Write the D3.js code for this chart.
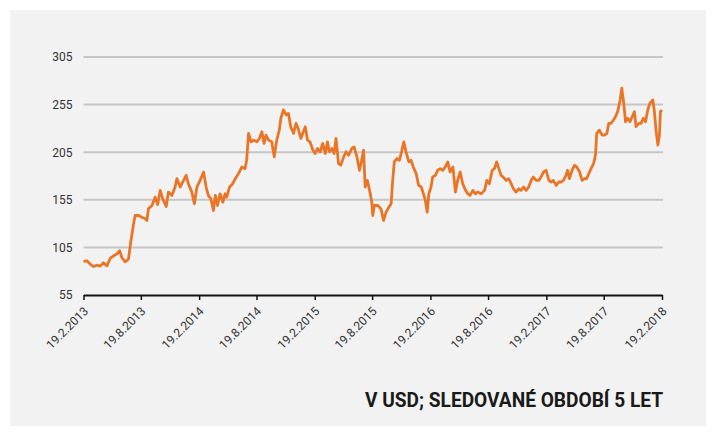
<!DOCTYPE html>
<html>
<head>
<meta charset="utf-8">
<script src="https://cdn.jsdelivr.net/npm/d3@7"></script>
<style>
  body { margin: 0; background: #ffffff; }
  svg { display: block; font-family: Roboto, "Noto Sans", sans-serif; }
</style>
</head>
<body>
<div id="chart"></div>
<script>
// set the dimensions and margins of the graph
var W = 716, H = 436;
var margin = {top: 57, right: 54, bottom: 141, left: 83.5},
    width = W - margin.left - margin.right,
    height = H - margin.top - margin.bottom;

// day offsets from 19.2.2013
var dayOffsets = [0, 11, 21, 32, 42, 53, 63, 74, 84, 95, 105, 114, 121, 131, 142, 149, 158, 163, 174, 184,
  195, 200, 205, 216, 226, 234, 242, 250, 261, 268, 279, 289, 295, 305, 316, 324, 331, 342, 350, 358,
  368, 379, 387, 394, 402, 410, 416, 423, 431, 440, 447, 452, 461, 471, 479, 489, 500, 510, 515, 521,
  529, 537, 547, 555, 563, 570, 576, 584, 594, 602, 610, 618, 623, 631, 640, 647, 654, 663, 671, 679,
  686, 692, 700, 707, 715, 724, 731, 739, 747, 755, 763, 770, 776, 784, 791, 797, 805, 812, 821, 829,
  837, 847, 854, 863, 871, 878, 884, 889, 896, 903, 910,
  913, 918, 929, 939, 947, 955, 964, 971, 976, 981, 989, 997, 1004, 1011, 1018, 1027, 1034, 1041, 1050,
  1058, 1066, 1073, 1079, 1085, 1090, 1097, 1102, 1111, 1118, 1126, 1134, 1142, 1150, 1157, 1166, 1174,
  1181, 1189, 1197, 1206, 1213, 1220, 1229, 1237, 1244, 1255, 1266, 1273, 1281, 1290, 1297, 1304, 1311,
  1318, 1325, 1334, 1342, 1350, 1357, 1365, 1374, 1381, 1389, 1397, 1405, 1413, 1420, 1429, 1437, 1444,
  1452, 1460, 1469, 1476, 1483, 1492, 1500, 1507, 1515, 1523, 1528, 1534, 1542, 1550, 1557, 1566, 1574,
  1581, 1588, 1595, 1602, 1610, 1616, 1620, 1628, 1637, 1644, 1652, 1658, 1665, 1673, 1679, 1686, 1694,
  1699, 1704, 1711, 1718, 1725, 1732, 1739, 1744, 1753, 1760, 1767, 1774, 1781, 1788, 1797, 1802, 1807,
  1813, 1818, 1821, 1826];

// price in USD
var prices = [90, 91, 87.4, 84.9, 86.3, 85.3, 88.8, 85.6, 93.4, 96.2, 98, 101.5, 94.4, 89.9, 92.7, 110.3, 129.7, 138.5, 138.5, 136.7,
  135, 133.2, 145.5, 149, 157.8, 150.1, 164.9, 156.1, 148, 163.1, 159.6, 168.4, 177.2, 168.4, 175.4, 180.7, 171.9, 163.1, 150.8, 168.4,
  175.4, 184.2, 168.4, 159.6, 156.1, 143.7, 159.6, 149, 161.3, 152.5, 161.3, 157.8, 168.4, 171.9, 177.2, 182.5, 189.5, 187.7, 196.5, 224.7,
  215.9, 217.7, 215.9, 219.4, 226.5, 214.2, 223, 217.7, 215.9, 200.1, 217.7, 228.2, 240.6, 249.4, 244.1, 245.8, 231.8, 224.7, 235.3, 228.2,
  219.4, 224.7, 231.8, 217.7, 215.9, 207.1, 203.6, 208.9, 205.4, 214.2, 203.6, 215.9, 205.4, 208.9, 203.6, 219.4, 193, 191.3, 200.1, 205.4,
  201.8, 208.9, 210.6, 200.1, 186, 196.5, 207.1, 168.4, 175.4, 164.9, 152.5,
  138.5, 149, 149, 145.5, 133.2, 142, 147.3, 150.8, 175.4, 194.8, 198.3, 196.5, 205.4, 215.9, 205.4, 194.8, 196.5, 189.5, 182.5,
  170.1, 168.4, 161.3, 154.3, 142, 161.3, 168.4, 178.9, 180.7, 186, 187.7, 186, 189.5, 194.8, 184.2, 189.5, 163.1,
  175.4, 184.2, 171.9, 164.9, 161.3, 159.6, 164.9, 161.3, 163.1, 161.3, 164.9, 175.4, 171.9, 186, 187.7, 194.8, 187.7,
  180.7, 178.9, 175.4, 177.2, 171.9, 166.6, 163.1, 166.6, 164.9, 168.4, 164.9, 168.4, 175.4, 178.9, 175.4, 175.4, 178.9,
  184.2, 186, 175.4, 173.7, 175.4, 170.1, 173.7, 173.7, 175.4, 180.7, 186, 177.2, 186, 191.3, 189.5, 184.2, 175.4,
  177.2, 177.2, 182.5, 187.7, 193, 201.8, 224.7, 228.2, 223, 223, 224.7, 235.3, 235.3, 238.8, 242.3, 247.6, 259.9,
  272.3, 259.9, 237, 240.6, 237, 242.3, 247.6, 231.8, 235.3, 235.3, 240.6, 237, 249.4, 256.4, 259.9, 247.6, 228.2,
  212.4, 223, 247.6, 249.4];

var yTicks = [55, 105, 155, 205, 255, 305];
var xTickLabels = ["19.2.2013", "19.8.2013", "19.2.2014", "19.8.2014", "19.2.2015", "19.8.2015",
  "19.2.2016", "19.8.2016", "19.2.2017", "19.8.2017", "19.2.2018"];
var caption = "V USD; SLEDOVANÉ OBDOBÍ 5 LET";

var parse = d3.timeParse("%d.%m.%Y");
var startDate = parse(xTickLabels[0]);
var table = dayOffsets.map(function(d, i) {
  return {date: d3.timeDay.offset(startDate, d), value: prices[i]};
});

var svg = d3.select("#chart")
  .append("svg")
    .attr("width", W)
    .attr("height", H);

// gray panel
svg.append("rect")
  .attr("x", 10).attr("y", 10)
  .attr("width", 696).attr("height", 416)
  .attr("fill", "#f2f2f2");

var g = svg.append("g")
  .attr("transform", "translate(" + margin.left + "," + margin.top + ")");

var x = d3.scaleTime()
  .domain([startDate, parse(xTickLabels[xTickLabels.length - 1])])
  .range([0, width]);

var y = d3.scaleLinear()
  .domain([55, 305])
  .range([height, 0]);

// horizontal grid
g.append("g")
  .selectAll("line")
  .data(yTicks.slice(1))
  .enter()
  .append("line")
    .attr("x1", 0)
    .attr("x2", width + 1)
    .attr("y1", function(d) { return y(d); })
    .attr("y2", function(d) { return y(d); })
    .attr("stroke", "#c6c6c6")
    .attr("stroke-width", 2);

// Y axis labels
var yAxis = g.append("g")
  .call(d3.axisLeft(y).tickValues(yTicks).tickSize(0).tickPadding(11));
yAxis.select(".domain").remove();
yAxis.selectAll("text")
  .style("font-size", "12px")
  .style("font-family", "Roboto, sans-serif")
  .attr("fill", "#333");

// X axis
var xAxis = g.append("g")
  .attr("transform", "translate(0," + height + ")")
  .call(d3.axisBottom(x)
    .tickValues(xTickLabels.map(parse))
    .tickFormat(function(d, i) { return xTickLabels[i]; })
    .tickSize(5)
    .tickSizeOuter(0));
xAxis.select(".domain")
  .attr("stroke", "#111")
  .attr("stroke-width", 2);
xAxis.selectAll(".tick line")
  .attr("stroke", "#111")
  .attr("stroke-width", 1.5);
xAxis.selectAll(".tick text")
  .attr("x", 0).attr("y", 0).attr("dy", 0)
  .attr("transform", "translate(5,17)rotate(-45)")
  .style("text-anchor", "end")
  .style("font-size", "12px")
  .style("font-family", "Roboto, sans-serif")
  .attr("fill", "#333");

// the price line
g.append("path")
  .datum(table)
  .attr("fill", "none")
  .attr("stroke", "#ea7526")
  .attr("stroke-width", 2.8)
  .attr("stroke-linejoin", "round")
  .attr("d", d3.line()
    .x(function(d) { return x(d.date); })
    .y(function(d) { return y(d.value); }));

// caption
svg.append("text")
  .attr("x", 663)
  .attr("y", 406.5)
  .attr("text-anchor", "end")
  .attr("textLength", 298)
  .attr("lengthAdjust", "spacingAndGlyphs")
  .style("font-family", "Roboto, sans-serif")
  .style("font-weight", "bold")
  .style("font-size", "19.5px")
  .attr("fill", "#1a1a1a")
  .text(caption);
</script>
</body>
</html>
